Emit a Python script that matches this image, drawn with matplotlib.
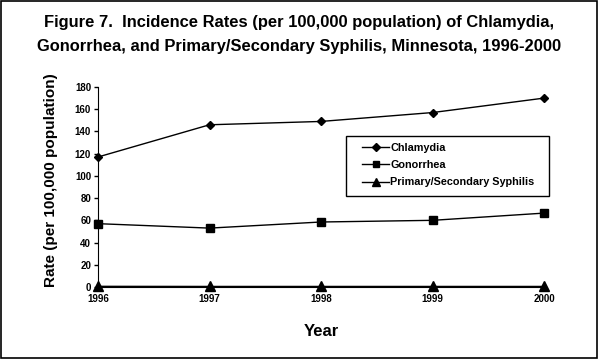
import matplotlib.pyplot as plt
from matplotlib.patches import Rectangle

plt.rcParams['font.family'] = ['Liberation Sans', 'DejaVu Sans']

years = [1996, 1997, 1998, 1999, 2000]
chlamydia = [117, 146, 149, 157, 170]
gonorrhea = [57, 53, 58.5, 60, 66.5]
syphilis = [0.6, 0.5, 0.5, 0.5, 0.5]

fig = plt.figure(figsize=(5.99, 3.59), dpi=100)
ax = fig.add_axes([98 / 599, 1 - 287 / 359, (544 - 98) / 599, 200 / 359])

ax.plot(years, chlamydia, color='black', lw=1, marker='D', ms=4.5, label='Chlamydia', clip_on=False)
ax.plot(years, gonorrhea, color='black', lw=1, marker='s', ms=5.5, label='Gonorrhea', clip_on=False)
ax.plot(years, syphilis, color='black', lw=1, marker='^', ms=6.5, label='Primary/Secondary Syphilis', clip_on=False)

ax.set_xlim(1996, 2000)
ax.set_ylim(0, 180)
ax.set_yticks(range(0, 181, 20))
ax.set_xticks(years)
ax.spines['top'].set_visible(False)
ax.spines['right'].set_visible(False)
ax.tick_params(axis='y', direction='out', length=3, width=1, labelsize=7, pad=2)
ax.tick_params(axis='x', length=0, labelsize=7, pad=5)
for lab in ax.get_xticklabels() + ax.get_yticklabels():
    lab.set_fontweight('bold')

ax.set_xlabel('Year', fontsize=12, fontweight='bold')
ax.xaxis.set_label_coords(0.5, -(332 - 287) / 200)
ax.xaxis.label.set_va('center')
ax.set_ylabel('Rate (per 100,000 population)', fontsize=11, fontweight='bold')
ax.yaxis.set_label_coords(-(98 - 51) / 446, (287 - 180) / 200)
ax.yaxis.label.set_va('center')

# legend without its own frame; box drawn separately to match the original size
leg = ax.legend(loc='center left', bbox_to_anchor=((362 - 98) / 446, (287 - 165) / 200),
                frameon=False, prop={'weight': 'bold', 'size': 7.8},
                handlelength=2.5, borderpad=0, labelspacing=0.68,
                handletextpad=0.1, borderaxespad=0, markerscale=0.8)
fig.patches.append(Rectangle((346 / 599, 1 - 196 / 359), (549 - 346) / 599, 60 / 359,
                             transform=fig.transFigure, fill=False, edgecolor='black', lw=1))

fig.text(0.5, 1 - 22 / 359, 'Figure 7.  Incidence Rates (per 100,000 population) of Chlamydia,',
         ha='center', va='center', fontsize=11.9, fontweight='bold')
fig.text(0.5, 1 - 47 / 359, 'Gonorrhea, and Primary/Secondary Syphilis, Minnesota, 1996-2000',
         ha='center', va='center', fontsize=11.9, fontweight='bold')

fig.patches.append(Rectangle((0.002, 0.003), 0.995, 0.994, transform=fig.transFigure,
                             fill=False, edgecolor='black', lw=1.2))

fig.savefig('out.png', dpi=100)
